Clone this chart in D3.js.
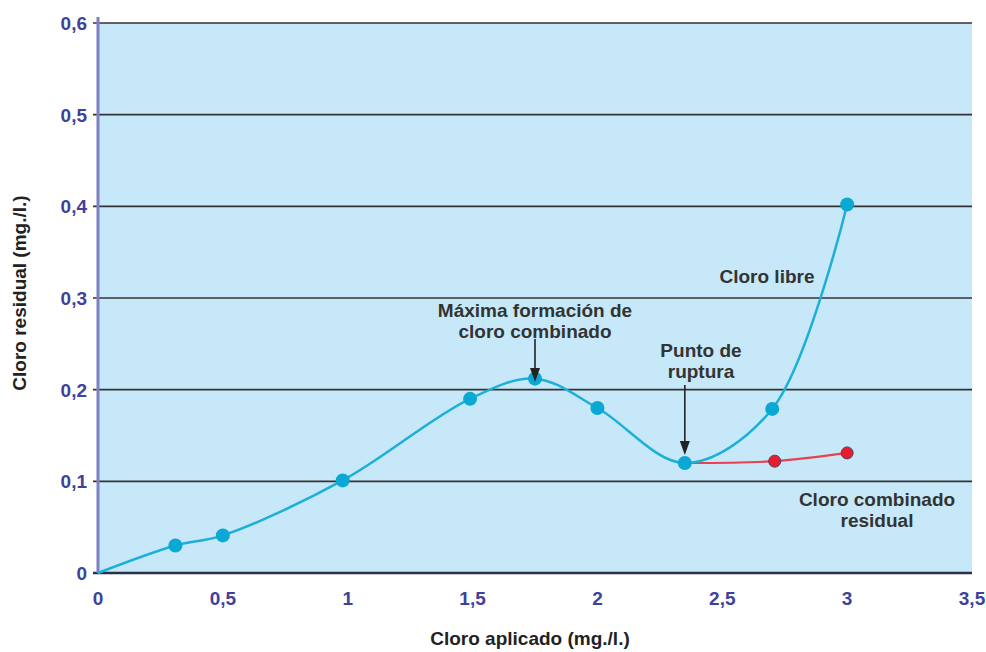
<!DOCTYPE html>
<html>
<head>
<meta charset="utf-8">
<script src="https://cdn.jsdelivr.net/npm/d3@7"></script>
<style>
  body { margin: 0; background: #fff; }
  text { font-family: "Liberation Sans", Arial, sans-serif; }
</style>
</head>
<body>
<svg id="chart" width="986" height="652"></svg>
<script>
// Cloro libre (blue curve)
const libreX = [0, 0.31, 0.5, 0.98, 1.49, 1.75, 2.0, 2.35, 2.7, 3.0];
const libreY = [0, 0.03, 0.041, 0.101, 0.19, 0.212, 0.18, 0.12, 0.179, 0.402];
// first point (origin) has no marker
const libreMarker = [false, true, true, true, true, true, true, true, true, true];

// Cloro combinado residual (red)
const combX = [2.35, 2.71, 3.0];
const combY = [0.12, 0.122, 0.131];

const xTicks = [0, 0.5, 1, 1.5, 2, 2.5, 3, 3.5];
const yTicks = [0, 0.1, 0.2, 0.3, 0.4, 0.5, 0.6];
const fmt = v => String(v).replace(".", ",");

const dims = { left: 98, right: 972, top: 23, bottom: 573 };

const svg = d3.select("#chart");

const x = d3.scaleLinear().domain([0, 3.5]).range([dims.left, dims.right]);
const y = d3.scaleLinear().domain([0, 0.6]).range([dims.bottom, dims.top]);

// background
svg.append("rect")
    .attr("x", dims.left)
    .attr("y", dims.top)
    .attr("width", dims.right - dims.left)
    .attr("height", dims.bottom - dims.top)
    .attr("fill", "#c6e8f8");

// grid lines (extend a few px left as tick marks)
svg.append("g")
    .selectAll("line")
    .data(yTicks)
    .join("line")
    .attr("x1", dims.left - 5)
    .attr("x2", dims.right)
    .attr("y1", d => y(d))
    .attr("y2", d => y(d))
    .attr("stroke", d => d === 0 ? "#2a2f4a" : "#333")
    .attr("stroke-width", d => d === 0 ? 2.5 : 1.6);

// y axis line
svg.append("line")
    .attr("x1", dims.left)
    .attr("x2", dims.left)
    .attr("y1", dims.top - 6)
    .attr("y2", dims.bottom)
    .attr("stroke", "#7c80c4")
    .attr("stroke-width", 3);

// y tick labels
svg.append("g")
    .selectAll("text")
    .data(yTicks)
    .join("text")
    .attr("x", dims.left - 11)
    .attr("y", d => y(d) + 7)
    .attr("text-anchor", "end")
    .attr("fill", "#3f429a")
    .style("font-size", "19px")
    .style("font-weight", "bold")
    .text(fmt);

// x tick labels
svg.append("g")
    .selectAll("text")
    .data(xTicks)
    .join("text")
    .attr("x", d => x(d))
    .attr("y", 605)
    .attr("text-anchor", "middle")
    .attr("fill", "#3f429a")
    .style("font-size", "19px")
    .style("font-weight", "bold")
    .text(fmt);

// axis titles
svg.append("text")
    .attr("x", 530)
    .attr("y", 645)
    .attr("text-anchor", "middle")
    .attr("fill", "#222")
    .style("font-size", "19px")
    .style("font-weight", "bold")
    .text("Cloro aplicado (mg./l.)");

svg.append("text")
    .attr("transform", "translate(26, 293) rotate(-90)")
    .attr("text-anchor", "middle")
    .attr("fill", "#222")
    .style("font-size", "19px")
    .style("font-weight", "bold")
    .text("Cloro residual  (mg./l.)");

// curves
const libre = libreX.map((d, i) => ({ x: d, y: libreY[i], m: libreMarker[i] }));
const comb = combX.map((d, i) => ({ x: d, y: combY[i] }));

const line = d3.line()
    .x(d => x(d.x))
    .y(d => y(d.y))
    .curve(d3.curveCatmullRom.alpha(0.5));

svg.append("path")
    .datum(comb)
    .attr("d", line)
    .attr("fill", "none")
    .attr("stroke", "#e8414f")
    .attr("stroke-width", 2.2);

svg.append("path")
    .datum(libre)
    .attr("d", line)
    .attr("fill", "none")
    .attr("stroke", "#1cb0d9")
    .attr("stroke-width", 2.5);

svg.append("g")
    .selectAll("circle")
    .data(comb.slice(1))
    .join("circle")
    .attr("cx", d => x(d.x))
    .attr("cy", d => y(d.y))
    .attr("r", 6)
    .attr("fill", "#e61e2b")
    .attr("stroke", "#5a3a6a")
    .attr("stroke-width", 1);

svg.append("g")
    .selectAll("circle")
    .data(libre.filter(d => d.m))
    .join("circle")
    .attr("cx", d => x(d.x))
    .attr("cy", d => y(d.y))
    .attr("r", 7)
    .attr("fill", "#0ba8d6");

// annotations
function label(lines, cx, cy) {
    const t = svg.append("text")
        .attr("text-anchor", "middle")
        .attr("fill", "#333")
        .style("font-size", "19px")
        .style("font-weight", "bold");
    lines.forEach((s, i) => {
        t.append("tspan").attr("x", cx).attr("y", cy + i * 21).text(s);
    });
}

function arrow(px, y1, y2) {
    svg.append("line")
        .attr("x1", px).attr("x2", px)
        .attr("y1", y1).attr("y2", y2 - 12)
        .attr("stroke", "#222")
        .attr("stroke-width", 1.6);
    svg.append("path")
        .attr("d", `M${px - 5},${y2 - 14} L${px + 5},${y2 - 14} L${px},${y2} Z`)
        .attr("fill", "#222");
}

label(["Máxima formación de", "cloro combinado"], 535, 317);
arrow(x(1.75), 339, 382);

label(["Punto de", "ruptura"], 701, 357);
arrow(x(2.35), 385, 455);

label(["Cloro libre"], 767, 283);
label(["Cloro combinado", "residual"], 877, 506);
</script>
</body>
</html>
